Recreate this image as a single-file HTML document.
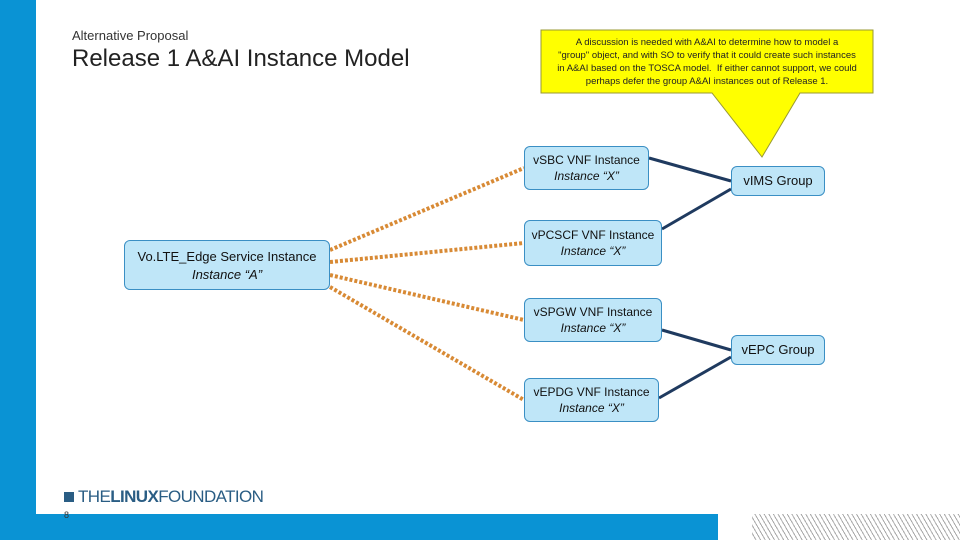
<!DOCTYPE html>
<html><head><meta charset="utf-8"><style>
body{margin:0;width:960px;height:540px;position:relative;background:#fff;font-family:"Liberation Sans",sans-serif;overflow:hidden}
.box{position:absolute;background:#bfe6f8;border:1.5px solid #3a8fc4;border-radius:6px;box-sizing:border-box;text-align:center;font-size:12px;color:#111;line-height:16px}
.box i{font-style:italic}
</style></head><body>
<div style="position:absolute;left:0;top:0;width:36px;height:540px;background:#0a93d4"></div>
<div style="position:absolute;left:0;top:514px;width:718px;height:26px;background:#0a93d4"></div>
<div style="position:absolute;left:752px;top:514px;width:208px;height:26px;background:repeating-linear-gradient(60deg,#fff 0 3px,#aaa 3px 4px)"></div>
<div style="position:absolute;left:72px;top:28px;font-size:13px;color:#333">Alternative Proposal</div>
<div style="position:absolute;left:72px;top:45px;font-size:24px;color:#222">Release 1 A&amp;AI Instance Model</div>
<svg width="960" height="540" style="position:absolute;left:0;top:0">
<polygon points="541,30 873,30 873,93 800,93 762,157 712,93 541,93" fill="#ffff00" stroke="#999933" stroke-width="1"/>
<g stroke="#d88a35" stroke-width="4" stroke-dasharray="3,2" fill="none">
<line x1="330" y1="250" x2="524" y2="168"/>
<line x1="330" y1="262" x2="524" y2="243"/>
<line x1="330" y1="275" x2="524" y2="320"/>
<line x1="330" y1="287" x2="524" y2="400"/>
</g>
<g stroke="#1f3a5f" stroke-width="3" fill="none">
<line x1="649" y1="158" x2="731" y2="181"/>
<line x1="662" y1="229" x2="731" y2="189"/>
<line x1="662" y1="330" x2="731" y2="350"/>
<line x1="659" y1="398" x2="731" y2="357"/>
</g>
</svg>
<div style="position:absolute;left:541px;top:36px;width:332px;text-align:center;font-family:'Liberation Sans Narrow','Liberation Sans',sans-serif;font-size:9.5px;line-height:13px;color:#222">A discussion is needed with A&amp;AI to determine how to model a<br>"group" object, and with SO to verify that it could create such instances<br>in A&amp;AI based on the TOSCA model.&nbsp; If either cannot support, we could<br>perhaps defer the group A&amp;AI instances out of Release 1.</div>
<div class="box" style="left:524px;top:146px;width:125px;height:44px;padding-top:5px;font-weight:500">vSBC VNF Instance<br><i>Instance “X”</i></div>
<div class="box" style="left:731px;top:166px;width:94px;height:30px;padding-top:6px;font-size:13px">vIMS Group</div>
<div class="box" style="left:524px;top:220px;width:138px;height:46px;padding-top:6px">vPCSCF VNF Instance<br><i>Instance “X”</i></div>
<div class="box" style="left:124px;top:240px;width:206px;height:50px;padding-top:7px;font-size:13px;line-height:18px">Vo.LTE_Edge Service Instance<br><i>Instance “A”</i></div>
<div class="box" style="left:524px;top:298px;width:138px;height:44px;padding-top:5px">vSPGW VNF Instance<br><i>Instance “X”</i></div>
<div class="box" style="left:731px;top:335px;width:94px;height:30px;padding-top:6px;font-size:13px">vEPC Group</div>
<div class="box" style="left:524px;top:378px;width:135px;height:44px;padding-top:5px">vEPDG VNF Instance<br><i>Instance “X”</i></div>
<div style="position:absolute;left:64px;top:492px;width:10px;height:10px;background:#2a5d84"></div>
<div style="position:absolute;left:78px;top:487px;font-size:17px;color:#2a5d84;letter-spacing:-0.6px">THE<b>LINUX</b>FOUNDATION</div>
<div style="position:absolute;left:64px;top:510px;font-size:9px;color:#333">8</div>
</body></html>
